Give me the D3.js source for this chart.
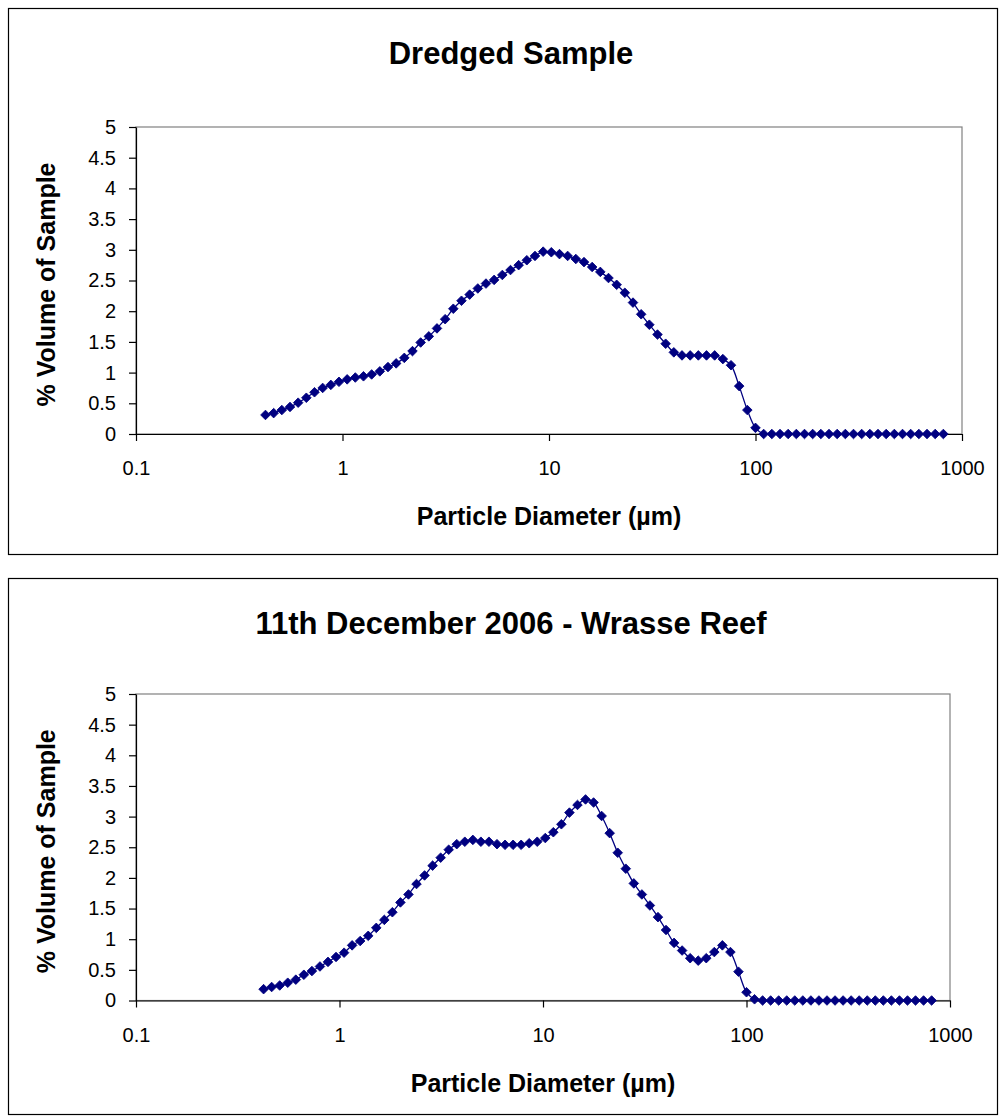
<!DOCTYPE html>
<html><head><meta charset="utf-8">
<script src="https://cdn.jsdelivr.net/npm/d3@7"></script>
<style>
html,body{margin:0;padding:0;background:#fff;}
svg{display:block;}
text{font-family:"Liberation Sans",Arial,sans-serif;fill:#000;}
</style></head>
<body>
<svg id="c" width="999" height="1116"></svg>
<script>
// ---- data ----
const diameters = [0.4236,0.4641,0.5083,0.5568,0.6099,0.6681,0.7318,0.8016,0.8779,0.9615,
1.0532,1.1535,1.2636,1.3840,1.5160,1.6605,1.8188,1.9922,2.1821,2.3902,
2.6182,2.8676,3.1411,3.4405,3.7686,4.1279,4.5215,4.9526,5.4247,5.9419,
6.5085,7.1291,7.8088,8.5533,9.3689,10.262,11.241,12.312,13.486,14.772,
16.181,17.723,19.413,21.264,23.292,25.512,27.945,30.610,33.528,36.725,
40.227,44.062,48.264,52.866,57.906,63.428,69.475,76.100,83.356,91.304,
100.0,109.53,119.98,131.42,143.95,157.67,172.71,189.17,207.21,226.97,
248.61,272.32,298.28,326.72,357.87,392.00,429.38,470.32,515.16,564.28,
618.09,677.03,741.58,812.29];
const dredged = [0.31,0.34,0.39,0.44,0.51,0.59,0.68,0.75,0.80,0.85,
0.89,0.92,0.94,0.97,1.02,1.09,1.15,1.24,1.35,1.49,
1.59,1.72,1.87,2.04,2.17,2.27,2.37,2.45,2.51,2.59,
2.67,2.75,2.83,2.90,2.97,2.96,2.93,2.90,2.85,2.80,
2.72,2.64,2.54,2.43,2.30,2.14,1.95,1.78,1.62,1.47,
1.33,1.28,1.28,1.28,1.28,1.28,1.22,1.12,0.78,0.39,
0.10,0,0,0,0,0,0,0,0,0,
0,0,0,0,0,0,0,0,0,0,
0,0,0,0];
const wrasse = [0.185,0.22,0.245,0.29,0.34,0.42,0.48,0.555,0.63,0.71,
0.78,0.90,0.97,1.055,1.185,1.315,1.44,1.60,1.73,1.90,
2.04,2.20,2.33,2.46,2.55,2.59,2.62,2.59,2.59,2.55,
2.54,2.54,2.54,2.565,2.59,2.65,2.745,2.875,3.065,3.19,
3.28,3.23,3.01,2.73,2.41,2.15,1.91,1.73,1.55,1.36,
1.15,0.94,0.815,0.69,0.65,0.69,0.79,0.90,0.79,0.47,
0.135,0.02,0,0,0,0,0,0,0,0,
0,0,0,0,0,0,0,0,0,0,
0,0,0,0];
const xTicks = [0.1, 1, 10, 100, 1000];
const xTickLabels = ["0.1","1","10","100","1000"];
const yTicks = [0,0.5,1,1.5,2,2.5,3,3.5,4,4.5,5];
const yTickLabels = ["0","0.5","1","1.5","2","2.5","3","3.5","4","4.5","5"];
const titles = ["Dredged Sample", "11th December 2006 - Wrasse Reef"];
const xTitle = "Particle Diameter (µm)";
const yTitle = "% Volume of Sample";

// ---- layout ----
const svg = d3.select("#c");
const charts = [
  {title: titles[0], values: dredged, box:{x:8.5,y:8.5,w:989,h:546}, plot:{l:136,t:127,r:962,b:434}},
  {title: titles[1], values: wrasse,  box:{x:8.5,y:578.5,w:989,h:536}, plot:{l:136,t:694,r:950,b:1000.5}}
];
const navy = "#000080";

charts.forEach(ch => {
  const g = svg.append("g");
  const p = ch.plot;
  g.append("rect").attr("x",ch.box.x).attr("y",ch.box.y).attr("width",ch.box.w).attr("height",ch.box.h)
    .attr("fill","#fff").attr("stroke","#000").attr("stroke-width",1.2);

  const x = d3.scaleLog().domain([0.1,1000]).range([p.l,p.r]);
  const y = d3.scaleLinear().domain([0,5]).range([p.b,p.t]);

  g.append("rect").attr("x",p.l).attr("y",p.t).attr("width",p.r-p.l).attr("height",p.b-p.t)
    .attr("fill","none").attr("stroke","#808080").attr("stroke-width",1.2);

  const xa = d3.axisBottom(x).tickValues(xTicks).tickFormat((d,i)=>xTickLabels[i]).tickSizeInner(7).tickSizeOuter(0).tickPadding(20);
  const ya = d3.axisLeft(y).tickValues(yTicks).tickFormat((d,i)=>yTickLabels[i]).tickSizeInner(7).tickSizeOuter(0).tickPadding(13);
  const gx = g.append("g").attr("transform",`translate(0,${p.b})`).call(xa);
  const gy = g.append("g").attr("transform",`translate(${p.l},0)`).call(ya);
  [gx,gy].forEach(a=>{
    a.selectAll("path.domain").attr("stroke","#000").attr("stroke-width",1.2);
    a.selectAll(".tick line").attr("stroke","#000").attr("stroke-width",1.2);
    a.selectAll(".tick text").attr("font-size",20).attr("font-family","Liberation Sans, Arial, sans-serif").attr("fill","#000");
  });

  const pts = diameters.map((d,i)=>[d, ch.values[i]]);
  const line = d3.line().x(d=>x(d[0])).y(d=>y(d[1])).curve(d3.curveCatmullRom.alpha(0.5));
  g.append("path").datum(pts).attr("d",line).attr("fill","none").attr("stroke",navy).attr("stroke-width",1.3);
  const sym = d3.symbol().type(d3.symbolSquare).size(46);
  g.selectAll("path.m").data(pts).enter().append("path").attr("class","m")
    .attr("d",sym).attr("fill",navy).attr("stroke",navy).attr("stroke-width",0.8)
    .attr("transform",d=>`translate(${x(d[0])},${y(d[1])}) rotate(45)`);

  const cx = (ch.box.x + ch.box.x + ch.box.w)/2;
  g.append("text").attr("x",cx+8).attr("y",ch.box.y+55).attr("text-anchor","middle")
    .attr("font-size",31).attr("font-weight","bold").text(ch.title);
  g.append("text").attr("x",(p.l+p.r)/2).attr("y",p.b+91).attr("text-anchor","middle")
    .attr("font-size",25).attr("font-weight","bold").text(xTitle);
  g.append("text").attr("transform",`translate(55,${(p.t+p.b)/2+4}) rotate(-90)`).attr("text-anchor","middle")
    .attr("font-size",25).attr("font-weight","bold").text(yTitle);
});
</script>
</body></html>
